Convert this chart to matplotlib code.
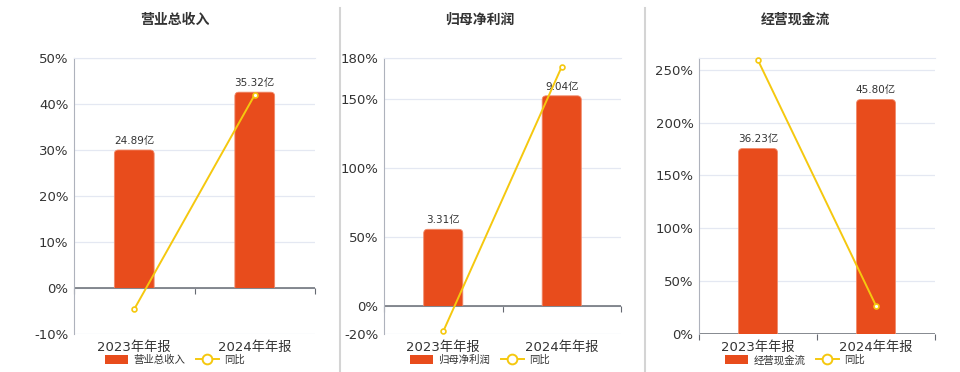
import matplotlib
matplotlib.use('Agg')
import matplotlib.pyplot as plt
from matplotlib.lines import Line2D
from matplotlib.patches import FancyBboxPatch, Rectangle
from matplotlib.ticker import FuncFormatter

plt.rcParams['font.family'] = ['DejaVu Sans', 'Noto Sans CJK SC']

# data
periods = ['2023年年报', '2024年年报']
titles = ['营业总收入', '归母净利润', '经营现金流']
amounts = [[24.89, 35.32], [3.31, 9.04], [36.23, 45.80]]      # 亿
yoy = [[-4.6, 42.0], [-18.1, 173.7], [258.8, 26.7]]            # %
yticks = [[-10, 0, 10, 20, 30, 40, 50],
          [-20, 0, 50, 100, 150, 180],
          [0, 50, 100, 150, 200, 250]]
ylims = [(-10, 50), (-20, 180), (0, 261)]
# bar scale: 亿 per percent point on the hidden bar axis
bar_scale = [24.89 / 30.0, 9.04 / 152.6, 45.80 / 221.7]

BAR = '#e84c1c'
LINE = '#f5c80f'
GRID = '#e4e8f2'
TXT = '#333333'

fig = plt.figure(figsize=(9.6, 3.72), dpi=100)

rects = [(74, 241), (384, 237), (699, 236)]
title_x = [175, 480, 795]
bottom, top = 1 - 334 / 372, 1 - 58 / 372
plot_h = 334 - 58

for i in range(3):
    left, w = rects[i]
    rect = (left / 960, bottom, w / 960, top - bottom)
    lo, hi = ylims[i]

    ax = fig.add_axes(rect)
    ax.set_xlim(-0.5, 1.5)
    ax.set_ylim(lo, hi)
    ax.set_yticks(yticks[i])
    ax.yaxis.set_major_formatter(FuncFormatter(lambda v, p: f'{v:.0f}%'))
    ax.tick_params(axis='y', length=0, labelsize=9.5, colors=TXT, pad=4)
    ax.set_xticks([0, 1])
    ax.set_xticklabels(periods)
    ax.tick_params(axis='x', length=0, labelsize=9.5, colors=TXT, pad=5)
    ax.grid(axis='y', color=GRID, lw=0.9)
    ax.set_axisbelow(True)
    for s in ['right', 'bottom']:
        ax.spines[s].set_visible(False)
    ax.spines['top'].set_color(GRID)
    ax.spines['left'].set_color('#aeb2bc')
    ax.axhline(0, color='#666a72', lw=1.1, zorder=1)
    zero_frac = (0 - lo) / (hi - lo)
    sec = ax.secondary_xaxis(zero_frac)
    sec.set_xticks([-0.5, 0.5, 1.5])
    sec.set_xticklabels([])
    sec.tick_params(length=4, color='#666a72', direction='out')
    sec.spines['bottom'].set_visible(False)

    # bars on a hidden scaled axis
    axb = ax.twinx()
    axb.set_zorder(ax.get_zorder() + 1)
    axb.patch.set_visible(False)
    axb.set_ylim(lo * bar_scale[i], hi * bar_scale[i])
    axb.axis('off')
    bars = axb.bar([0, 1], amounts[i], width=0.33, color=BAR,
                   edgecolor='#f08a6a', linewidth=0.6, label=titles[i])
    # rounded top corners only
    x_per_px = 2.0 / w
    y_per_px = (hi - lo) * bar_scale[i] / plot_h
    r_y = 6 * y_per_px
    for b in bars:
        b.set_visible(False)
        fb = FancyBboxPatch((b.get_x(), b.get_y() - r_y), b.get_width(),
                            b.get_height() + r_y,
                            boxstyle=f'round,pad=0,rounding_size={4 * x_per_px}',
                            mutation_aspect=y_per_px / x_per_px,
                            facecolor=BAR, edgecolor='#f08a6a', lw=0.6)
        axb.add_patch(fb)
        clip = Rectangle((b.get_x() - 0.1, 0), b.get_width() + 0.2,
                         hi * bar_scale[i] * 2, transform=axb.transData)
        fb.set_clip_path(clip)
    axb.bar_label(bars, labels=[f'{v:.2f}亿' for v in amounts[i]],
                  padding=3, fontsize=7.5, color=TXT)

    # yoy line on top
    axl = ax.twinx()
    axl.set_zorder(axb.get_zorder() + 1)
    axl.patch.set_visible(False)
    axl.set_ylim(lo, hi)
    axl.axis('off')
    axl.plot([0, 1], yoy[i], color=LINE, lw=1.4, marker='o', ms=3.5,
             mfc='white', mec=LINE, mew=1.2, label='同比', clip_on=False)

    fig.text(title_x[i] / 960, 1 - 20 / 372, titles[i], ha='center', va='center',
             fontsize=10, fontweight='bold', color=TXT)

    handles = [FancyBboxPatch((0, 0), 1, 1, boxstyle='round,pad=0,rounding_size=0.2',
                              facecolor=BAR, edgecolor='none'),
               Line2D([], [], color=LINE, lw=1.4, marker='o', ms=7,
                      mfc='white', mec=LINE, mew=1.4)]
    fig.legend(handles, [titles[i], '同比'], loc='center',
               bbox_to_anchor=(title_x[i] / 960, 1 - 360 / 372), ncol=2,
               frameon=False, fontsize=7.5, labelcolor=TXT, handlelength=2.2,
               handleheight=0.9, columnspacing=1.0, handletextpad=0.5)

for x in [340, 645]:
    fig.add_artist(Line2D([x / 960, x / 960], [0, 1 - 8 / 372],
                          transform=fig.transFigure, color='#d4d4d4', lw=1.5))

fig.savefig('out.png', dpi=100, facecolor='white')
